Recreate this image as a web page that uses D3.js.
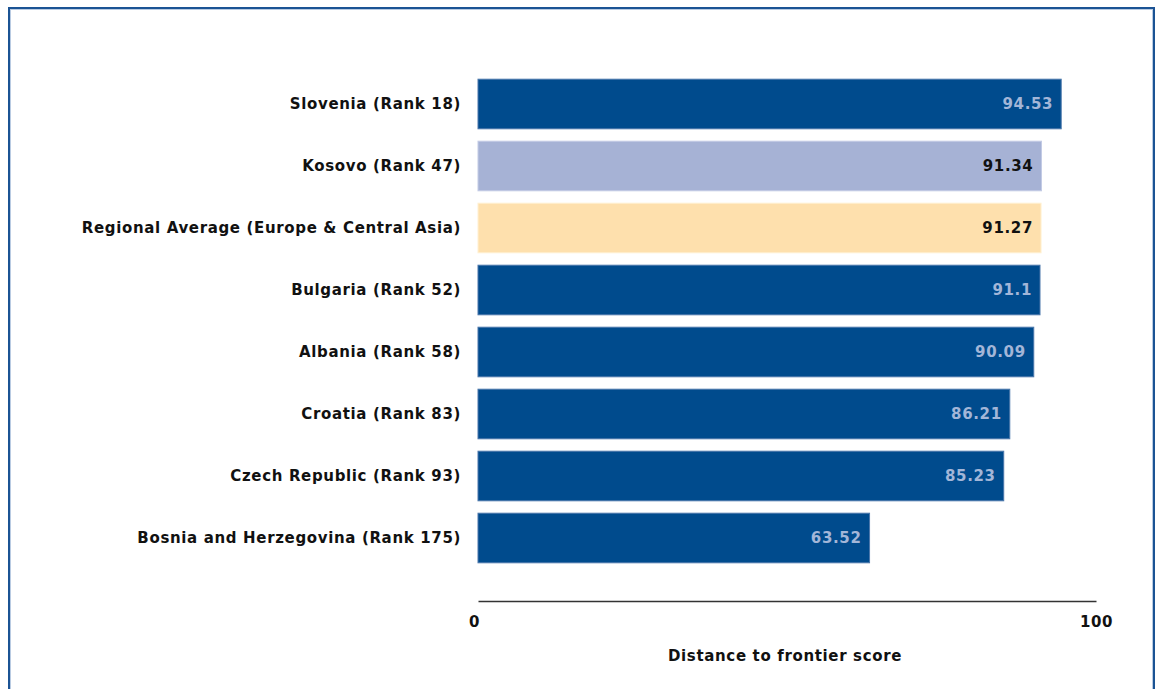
<!DOCTYPE html>
<html><head><meta charset="utf-8">
<script src="https://cdn.jsdelivr.net/npm/d3@7"></script>
<style>body{margin:0;background:#fff}svg{display:block}</style>
</head><body>
<svg id="c" width="1160" height="689"></svg>
<script>
const categories = ["Slovenia (Rank 18)","Kosovo (Rank 47)","Regional Average (Europe & Central Asia)","Bulgaria (Rank 52)","Albania (Rank 58)","Croatia (Rank 83)","Czech Republic (Rank 93)","Bosnia and Herzegovina (Rank 175)"];
const values = [94.53, 91.34, 91.27, 91.1, 90.09, 86.21, 85.23, 63.52];
const valueLabels = ["94.53","91.34","91.27","91.1","90.09","86.21","85.23","63.52"];
const barKinds = ["country","highlight","average","country","country","country","country","country"];
const tickValues = [0, 100];
const axisTitle = "Distance to frontier score";

const fills = {country:"#004b8d", highlight:"#a6b2d5", average:"#fee0ad"};
const strokes = {country:"#4a77ab", highlight:"#c3cbe5", average:"#fff0d2"};
const labelColors = {country:"#a3b6d8", highlight:"#111111", average:"#111111"};
const font = "Verdana, 'DejaVu Sans', sans-serif";
const fs = 15, ls = 0.65;

const svg = d3.select("#c");
// frame
svg.append("rect").attr("x",9).attr("y",8).attr("width",1145).attr("height",720)
  .attr("fill","none").attr("stroke","#1b5394").attr("stroke-width",2);
svg.append("rect").attr("x",10.5).attr("y",9.5).attr("width",1142).attr("height",720)
  .attr("fill","none").attr("stroke","#b9cbe2").attr("stroke-width",1);

const x = d3.scaleLinear().domain([0,100]).range([478,1096]);
const y = d3.scaleBand().domain(categories).range([73,569]).paddingInner(0.2).paddingOuter(0.1);

const g = svg.append("g");
g.selectAll("rect.bar").data(categories).join("rect").attr("class","bar")
  .attr("x", x(0)).attr("y", d=>y(d))
  .attr("width", (d,i)=>x(values[i])-x(0)-1).attr("height", y.bandwidth())
  .attr("fill",(d,i)=>fills[barKinds[i]])
  .attr("stroke",(d,i)=>strokes[barKinds[i]]).attr("stroke-width",1);

g.selectAll("text.val").data(categories).join("text").attr("class","val")
  .attr("x",(d,i)=>x(values[i])-9).attr("y",d=>y(d)+y.bandwidth()/2)
  .attr("dy","0.36em").attr("text-anchor","end")
  .attr("font-family",font).attr("font-weight","bold").attr("font-size",fs)
  .attr("letter-spacing",ls)
  .attr("fill",(d,i)=>labelColors[barKinds[i]])
  .text((d,i)=>valueLabels[i]);

g.selectAll("text.cat").data(categories).join("text").attr("class","cat")
  .attr("x",461).attr("y",d=>y(d)+y.bandwidth()/2)
  .attr("dy","0.36em").attr("text-anchor","end")
  .attr("font-family",font).attr("font-weight","bold").attr("font-size",fs)
  .attr("letter-spacing",ls)
  .attr("fill","#111")
  .text(d=>d);

const axis = d3.axisBottom(x).tickValues(tickValues).tickSize(0).tickPadding(15).tickFormat(d3.format("d"));
const ax = svg.append("g").attr("transform","translate(0,601)").call(axis);
ax.select(".domain").attr("stroke","#333").attr("stroke-width",1.5);
ax.selectAll("text").attr("font-family",font).attr("font-weight","bold").attr("font-size",fs)
  .attr("letter-spacing",ls).attr("fill","#111");
ax.selectAll(".tick").filter(d=>d===0).select("text").attr("dx",-4);

svg.append("text").attr("x",785).attr("y",661).attr("text-anchor","middle")
  .attr("font-family",font).attr("font-weight","bold").attr("font-size",fs)
  .attr("letter-spacing",ls).attr("fill","#111")
  .text(axisTitle);
</script>
</body></html>
